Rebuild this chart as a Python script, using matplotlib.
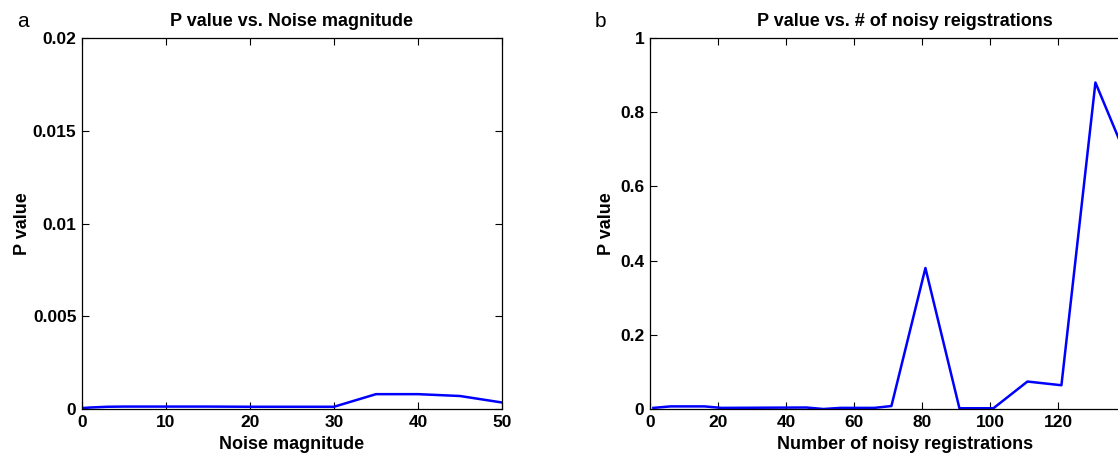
import matplotlib
matplotlib.use("Agg")
import matplotlib.pyplot as plt
from matplotlib.ticker import FuncFormatter

plt.rcParams['font.family'] = ['Liberation Sans', 'DejaVu Sans']

# panel a: P value vs noise magnitude
noise_mag = [0, 1, 3, 5, 10, 15, 20, 25, 30, 35, 40, 45, 50]
p_noise = [0.00005, 0.00008, 0.00012, 0.00013, 0.00013, 0.00013, 0.00012,
           0.00012, 0.00012, 0.0008, 0.0008, 0.0007, 0.00035]

# panel b: P value vs number of noisy registrations
n_reg = [1, 6, 16, 21, 46, 51, 56, 66, 71, 81, 91, 101, 111, 121, 131, 141]
p_reg = [0.003, 0.007, 0.007, 0.003, 0.004, 0.0, 0.003, 0.003, 0.008,
         0.38, 0.002, 0.002, 0.074, 0.064, 0.88, 0.66]


def fmt(v, pos):
    s = ('%.3f' % v).rstrip('0').rstrip('.')
    return s


fig = plt.figure(figsize=(11.18, 4.58), dpi=100)
ax1 = fig.add_axes([0.0733, 0.107, 0.3757, 0.810])
ax2 = fig.add_axes([0.5814, 0.107, 0.4562, 0.810])   # runs past the right edge, as in the original

ax1.plot(noise_mag, p_noise, color='#0000ff', lw=1.8)
ax1.set_xlim(0, 50)
ax1.set_ylim(0, 0.02)
ax1.set_xticks([0, 10, 20, 30, 40, 50])
ax1.set_yticks([0, 0.005, 0.01, 0.015, 0.02])
ax1.set_title('P value vs. Noise magnitude', fontsize=13, fontweight='bold', pad=9)
ax1.set_xlabel('Noise magnitude', fontsize=13, fontweight='bold', labelpad=5)
ax1.set_ylabel('P value', fontsize=13, fontweight='bold', labelpad=1)

ax2.plot(n_reg, p_reg, color='#0000ff', lw=1.8)
ax2.set_xlim(0, 150)
ax2.set_ylim(0, 1)
ax2.set_xticks(range(0, 121, 20))
ax2.set_yticks([0, 0.2, 0.4, 0.6, 0.8, 1])
ax2.set_title('P value vs. # of noisy reigstrations', fontsize=13, fontweight='bold', pad=9)
ax2.set_xlabel('Number of noisy registrations', fontsize=13, fontweight='bold', labelpad=5)
ax2.set_ylabel('P value', fontsize=13, fontweight='bold', labelpad=4)

for ax in (ax1, ax2):
    ax.yaxis.set_major_formatter(FuncFormatter(fmt))
    ax.tick_params(direction='in', top=True, right=True, length=5, width=0.8,
                   labelsize=12.5, pad=4)
    for lab in ax.get_xticklabels() + ax.get_yticklabels():
        lab.set_fontweight('bold')
    for sp in ax.spines.values():
        sp.set_linewidth(0.9)

fig.text(0.015, 0.94, 'a', fontsize=15)
fig.text(0.532, 0.94, 'b', fontsize=15)

fig.savefig('out.png', dpi=100)
